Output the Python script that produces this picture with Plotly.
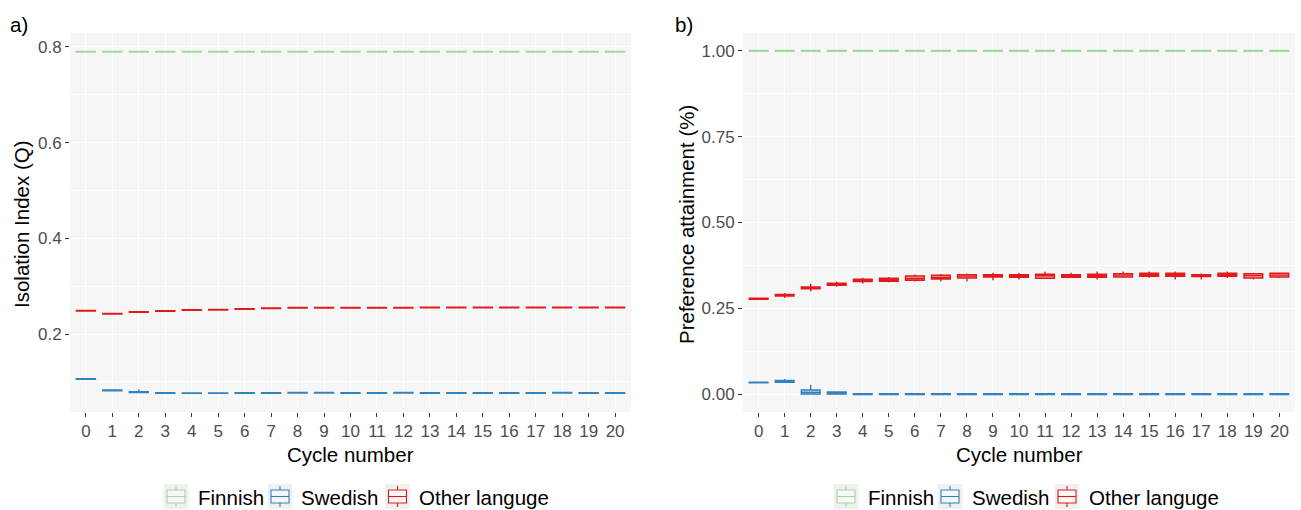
import plotly.graph_objects as go

# ---------------- data ----------------
cycles = list(range(21))
groups = ["Finnish", "Swedish", "Other languge"]
colors = {"Finnish": "#A1D99B", "Swedish": "#3182BD", "Other languge": "#E31A1C"}
fills = {"Finnish": "rgba(161,217,155,0.35)", "Swedish": "rgba(49,130,189,0.35)",
         "Other languge": "rgba(227,26,28,0.35)"}

# Panel a) Isolation index (Q) - boxes are nearly degenerate
iso_fin_med = [0.790] * 21
iso_fin_q1 = [0.7893] * 21
iso_fin_q3 = [0.7907] * 21
iso_swe_med = [0.106, 0.0823, 0.0787, 0.0767, 0.0765, 0.0765, 0.0767, 0.0767, 0.0773, 0.0773,
               0.0767, 0.0767, 0.0773, 0.0767, 0.0767, 0.0767, 0.0767, 0.0767, 0.0773, 0.0767, 0.0767]
iso_swe_q1 = [0.1055, 0.0815, 0.0778, 0.0762, 0.0761, 0.0761, 0.0762, 0.0762, 0.0768, 0.0768,
              0.0762, 0.0762, 0.0768, 0.0762, 0.0762, 0.0762, 0.0762, 0.0762, 0.0768, 0.0762, 0.0762]
iso_swe_q3 = [0.1065, 0.0830, 0.0796, 0.0772, 0.0769, 0.0769, 0.0772, 0.0772, 0.0778, 0.0778,
              0.0772, 0.0772, 0.0778, 0.0772, 0.0772, 0.0772, 0.0772, 0.0772, 0.0778, 0.0772, 0.0772]
iso_swe_hi = [0.1065, 0.0830, 0.0843, 0.0780, 0.0769, 0.0769, 0.0772, 0.0772, 0.0778, 0.0778,
              0.0772, 0.0772, 0.0778, 0.0772, 0.0772, 0.0772, 0.0772, 0.0772, 0.0778, 0.0772, 0.0772]
iso_oth_med = [0.2487, 0.2424, 0.2460, 0.2480, 0.2500, 0.2508, 0.2523, 0.2537, 0.2550, 0.2550,
               0.2550, 0.2550, 0.2550, 0.2552, 0.2552, 0.2552, 0.2552, 0.2552, 0.2552, 0.2552, 0.2552]
iso_oth_q1 = [0.2482, 0.2418, 0.2454, 0.2474, 0.2494, 0.2501, 0.2516, 0.2530, 0.2543, 0.2544,
              0.2544, 0.2544, 0.2544, 0.2546, 0.2546, 0.2546, 0.2546, 0.2546, 0.2546, 0.2546, 0.2546]
iso_oth_q3 = [0.2492, 0.2430, 0.2466, 0.2486, 0.2506, 0.2515, 0.2530, 0.2544, 0.2557, 0.2556,
              0.2556, 0.2556, 0.2556, 0.2558, 0.2558, 0.2558, 0.2558, 0.2558, 0.2558, 0.2558, 0.2558]

# Panel b) Preference attainment
pa_fin_med = [1.0] * 21
pa_fin_q1 = [0.9985] * 21
pa_fin_q3 = [1.0015] * 21
pa_swe_med = [0.0340, 0.0371, 0.0050, 0.0030] + [0.0] * 17
pa_swe_q1 = [0.0330, 0.0347, 0.0000, 0.0000] + [-0.0015] * 17
pa_swe_q3 = [0.0350, 0.0396, 0.0122, 0.0063] + [0.0015] * 17
pa_swe_lo = [0.0330, 0.0342, 0.0000, 0.0000] + [-0.0015] * 17
pa_swe_hi = [0.0350, 0.0440, 0.0273, 0.0080] + [0.0015] * 17

pa_oth_med = [0.2780, 0.2882, 0.3097, 0.3204, 0.3312, 0.3331, 0.3370, 0.3399, 0.3438, 0.3448,
              0.3448, 0.3448, 0.3448, 0.3448, 0.3468, 0.3478, 0.3478, 0.3458, 0.3478, 0.3458, 0.3468]
pa_oth_q1 = [0.2765, 0.2857, 0.3072, 0.3170, 0.3277, 0.3287, 0.3317, 0.3356, 0.3385, 0.3414,
             0.3404, 0.3375, 0.3404, 0.3404, 0.3414, 0.3434, 0.3434, 0.3424, 0.3434, 0.3385, 0.3414]
pa_oth_q3 = [0.2795, 0.2906, 0.3121, 0.3229, 0.3346, 0.3375, 0.3443, 0.3463, 0.3482, 0.3482,
             0.3482, 0.3492, 0.3482, 0.3492, 0.3512, 0.3522, 0.3522, 0.3482, 0.3522, 0.3512, 0.3522]
pa_oth_lo = [0.2765, 0.2804, 0.2999, 0.3126, 0.3224, 0.3263, 0.3282, 0.3282, 0.3282, 0.3321,
             0.3341, 0.3361, 0.3380, 0.3341, 0.3380, 0.3390, 0.3341, 0.3341, 0.3380, 0.3341, 0.3380]
pa_oth_hi = [0.2795, 0.2950, 0.3214, 0.3273, 0.3390, 0.3409, 0.3487, 0.3497, 0.3517, 0.3536,
             0.3536, 0.3566, 0.3536, 0.3575, 0.3575, 0.3575, 0.3575, 0.3517, 0.3575, 0.3536, 0.3546]

x_ticks = [str(c) for c in cycles]

# ---------------- figure ----------------
W, H = 1301, 510
FONT = "Liberation Sans, Arial, sans-serif"
fig = go.Figure()


def add_box(name, q1, med, q3, lo, hi, xa, ya):
    fig.add_trace(go.Box(
        name=name, x=cycles, q1=q1, median=med, q3=q3, lowerfence=lo, upperfence=hi,
        xaxis=xa, yaxis=ya, legendgroup=name,
        line=dict(color=colors[name], width=1.4), fillcolor=fills[name],
        width=0.72, whiskerwidth=0, boxpoints=False, showlegend=False,
    ))


add_box("Finnish", iso_fin_q1, iso_fin_med, iso_fin_q3, iso_fin_q1, iso_fin_q3, "x", "y")
add_box("Swedish", iso_swe_q1, iso_swe_med, iso_swe_q3, iso_swe_q1, iso_swe_hi, "x", "y")
add_box("Other languge", iso_oth_q1, iso_oth_med, iso_oth_q3, iso_oth_q1, iso_oth_q3, "x", "y")

add_box("Finnish", pa_fin_q1, pa_fin_med, pa_fin_q3, pa_fin_q1, pa_fin_q3, "x2", "y2")
add_box("Swedish", pa_swe_q1, pa_swe_med, pa_swe_q3, pa_swe_lo, pa_swe_hi, "x2", "y2")
add_box("Other languge", pa_oth_q1, pa_oth_med, pa_oth_q3, pa_oth_lo, pa_oth_hi, "x2", "y2")


def px_x(p):
    return p / W


def px_y(p):
    return 1 - p / H


tickfont = dict(family=FONT, size=17, color="#4D4D4D")
xcommon = dict(range=[-0.6, 20.6], tickmode="array", tickvals=cycles, ticktext=x_ticks,
               showgrid=True, gridcolor="white", gridwidth=1.1, zeroline=False,
               ticks="outside", ticklen=4, tickcolor="#333333", tickwidth=1,
               tickfont=tickfont, showline=False, fixedrange=True)
ycommon = dict(showgrid=True, gridcolor="white", gridwidth=1.1, zeroline=False,
               ticks="outside", ticklen=4, tickcolor="#333333", tickwidth=1,
               tickfont=tickfont, showline=False)

fig.update_layout(
    width=W, height=H,
    margin=dict(l=0, r=0, t=0, b=0),
    paper_bgcolor="white", plot_bgcolor="#F6F6F6",
    boxmode="overlay", showlegend=False,
    font=dict(family=FONT, color="black"),
    xaxis=dict(domain=[px_x(70), px_x(631)], anchor="y", **xcommon),
    yaxis=dict(domain=[px_y(412), px_y(33)], anchor="x", range=[0.037, 0.829],
               tickmode="linear", tick0=0, dtick=0.2, tickformat=".1f",
               minor=dict(dtick=0.1, tick0=0, showgrid=True, gridcolor="white", gridwidth=0.6, ticks=""),
               **ycommon),
    xaxis2=dict(domain=[px_x(743), px_x(1295)], anchor="y2", **xcommon),
    yaxis2=dict(domain=[px_y(412), px_y(33)], anchor="x2", range=[-0.052, 1.052],
                tickmode="linear", tick0=0, dtick=0.25, tickformat=".2f",
                minor=dict(dtick=0.125, tick0=0, showgrid=True, gridcolor="white", gridwidth=0.6, ticks=""),
                **ycommon),
)

ann_font = dict(family=FONT, size=20.5, color="black")
annotations = [
    dict(text="a)", x=px_x(8), y=px_y(24), xanchor="left", yanchor="middle"),
    dict(text="b)", x=px_x(673), y=px_y(24), xanchor="left", yanchor="middle"),
    dict(text="Cycle number", x=px_x(350.5), y=px_y(454), xanchor="center", yanchor="middle"),
    dict(text="Cycle number", x=px_x(1019), y=px_y(454), xanchor="center", yanchor="middle"),
    dict(text="Isolation Index (Q)", x=px_x(21), y=px_y(224), xanchor="center", yanchor="middle", textangle=-90),
    dict(text="Preference attainment (%)", x=px_x(686), y=px_y(224), xanchor="center", yanchor="middle", textangle=-90),
]

# ---- legends drawn as key squares (ggplot style) with text labels ----
shapes = []
legend_keys = {
    "left": [(163.5, 196.7), (267.5, 300.0), (385.0, 418.3)],
    "right": [(833.5, 866.7), (937.5, 970.7), (1054.5, 1088.3)],
}
key_top, key_bot = 484.0, 509.0
kc = (key_top + key_bot) / 2
for side, items in legend_keys.items():
    for (kx, tx), g in zip(items, groups):
        shapes.append(dict(type="rect", xref="paper", yref="paper",
                           x0=px_x(kx), x1=px_x(kx + 25), y0=px_y(key_bot), y1=px_y(key_top),
                           fillcolor="#F0F0F0", line=dict(width=0), layer="above"))
        cx = kx + 12.5
        shapes.append(dict(type="line", xref="paper", yref="paper",
                           x0=px_x(cx), x1=px_x(cx), y0=px_y(key_bot - 2), y1=px_y(key_top + 2),
                           line=dict(color=colors[g], width=1.1), layer="above"))
        shapes.append(dict(type="rect", xref="paper", yref="paper",
                           x0=px_x(cx - 9), x1=px_x(cx + 9), y0=px_y(kc + 6.5), y1=px_y(kc - 6.5),
                           fillcolor="#F8F8F8", line=dict(color=colors[g], width=1.1), layer="above"))
        shapes.append(dict(type="line", xref="paper", yref="paper",
                           x0=px_x(cx - 9), x1=px_x(cx + 9), y0=px_y(kc), y1=px_y(kc),
                           line=dict(color=colors[g], width=1.1), layer="above"))
        annotations.append(dict(text=g, x=px_x(tx - 1), y=px_y(kc + 1), xanchor="left", yanchor="middle"))

for a in annotations:
    a.update(xref="paper", yref="paper", showarrow=False, font=ann_font)
fig.update_layout(annotations=annotations, shapes=shapes)

fig.write_html("out.html")
